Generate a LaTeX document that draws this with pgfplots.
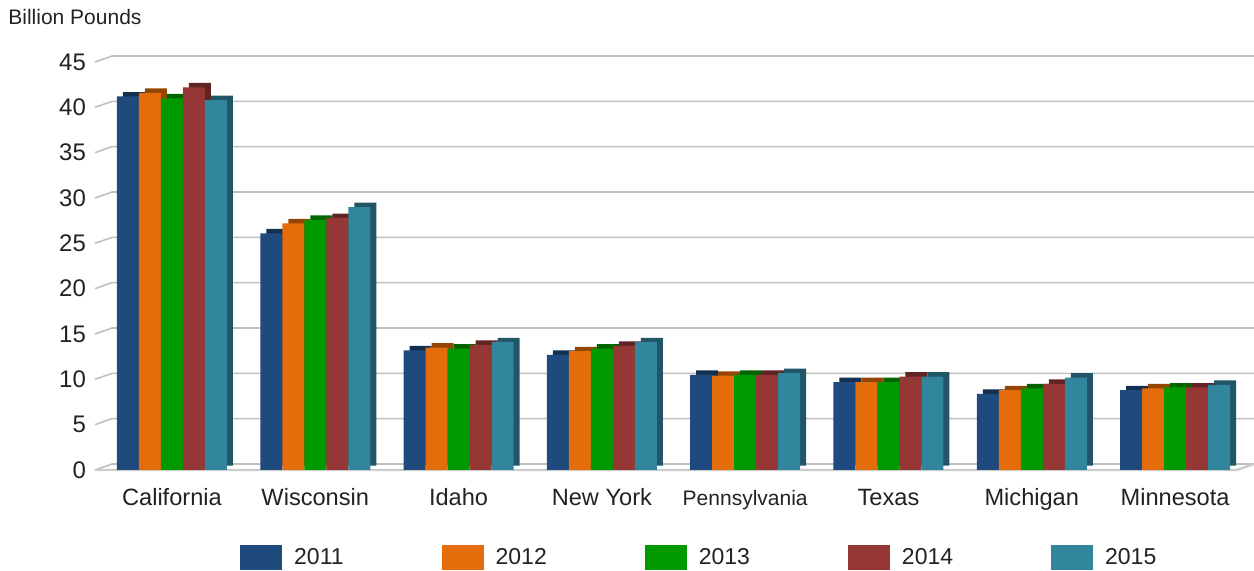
\documentclass[border=0pt]{standalone}
\usepackage{pgfplots}
\pgfplotsset{compat=1.18}
\usepackage{pgfplotstable}
\usepackage{fontspec}
\setmainfont{Liberation Sans}

\definecolor{c11}{HTML}{1F4A7D}
\definecolor{c12}{HTML}{E46C0A}
\definecolor{c13}{HTML}{009A00}
\definecolor{c14}{HTML}{953735}
\definecolor{c15}{HTML}{31859C}
\definecolor{gridc}{HTML}{BFBFBF}
\definecolor{txt}{HTML}{222222}

\pgfplotsset{sq/.style={legend image code/.code={\path[##1, draw=none] (0pt,-6pt) rectangle (21pt,6.5pt); \path (25pt,0pt);}}}

% billion pounds of milk, by state and year
\pgfplotstableread{
x y2011 y2012 y2013 y2014 y2015
0 41.2 41.6 41.0 42.2 40.8
1 26.1 27.2 27.6 27.8 29.0
2 13.2 13.5 13.4 13.8 14.1
3 12.7 13.1 13.4 13.7 14.1
4 10.5 10.4 10.5 10.5 10.7
5 9.7 9.7 9.7 10.3 10.3
6 8.4 8.8 9.0 9.5 10.2
7 8.8 9.0 9.1 9.1 9.4
}\milk

\begin{document}
\begin{tikzpicture}
\begin{axis}[
    width=571pt, height=204pt, scale only axis,
    xmin=-0.537, xmax=7.432, ymin=0, ymax=45,
    clip=false,
    ybar, bar width=11pt,
    ytick={0,5,...,45},
    xtick={0,...,7},
    xticklabels={California,Wisconsin,Idaho,New York,{\fontsize{10.5}{12}\selectfont Pennsylvania},Texas,Michigan,Minnesota},
    axis line style={draw=none},
    major tick length=0pt,
    /pgf/number format/assume math mode=true,
    yticklabel style={font=\fontsize{12}{14}\selectfont, text=txt, xshift=-1pt},
    xticklabel style={font=\fontsize{11.8}{14}\selectfont, text=txt, anchor=base, yshift=-17.7pt},
    legend columns=5,
    legend style={draw=none, at={(0.53,0)}, anchor=center, yshift=-44pt,
        font=\fontsize{11.5}{13}\selectfont, text=txt,
        /tikz/every even column/.append style={column sep=47pt}},
]
\coordinate (O) at (rel axis cs:0,0);
\pgfplotsinvokeforeach{0,5,...,45}{
  \draw[gridc, line width=0.8pt] (axis cs:-0.537,#1) -- ++(8.5pt,3pt)
      -- ([xshift=8.5pt,yshift=3pt]axis cs:7.432,#1);
}
\draw[gridc!80, line width=1.2pt] (axis cs:-0.537,0) -- (axis cs:7.432,0) -- ++(8.5pt,3pt);

\addplot[forget plot, fill=c11!65!black, draw=none, bar shift=-22pt, xshift=3pt, yshift=2.2pt] table[x=x, y=y2011] {\milk};
\addplot[sq, fill=c11, draw=none, bar shift=-22pt] table[x=x, y=y2011] {\milk};
\addplot[forget plot, fill=c12!65!black, draw=none, bar shift=-11pt, xshift=3pt, yshift=2.2pt] table[x=x, y=y2012] {\milk};
\addplot[sq, fill=c12, draw=none, bar shift=-11pt] table[x=x, y=y2012] {\milk};
\addplot[forget plot, fill=c13!65!black, draw=none, bar shift=0pt, xshift=3pt, yshift=2.2pt] table[x=x, y=y2013] {\milk};
\addplot[sq, fill=c13, draw=none, bar shift=0pt] table[x=x, y=y2013] {\milk};
\addplot[forget plot, fill=c14!65!black, draw=none, bar shift=11pt, xshift=3pt, yshift=2.2pt] table[x=x, y=y2014] {\milk};
\addplot[sq, fill=c14, draw=none, bar shift=11pt] table[x=x, y=y2014] {\milk};
\addplot[forget plot, fill=c15!65!black, draw=none, bar shift=22pt, xshift=3pt, yshift=2.2pt] table[x=x, y=y2015] {\milk};
\addplot[sq, fill=c15, draw=none, bar shift=22pt] table[x=x, y=y2015] {\milk};
\legend{2011,2012,2013,2014,2015}
\end{axis}
\node[anchor=west, font=\fontsize{10.5}{12}\selectfont, text=txt, inner sep=0pt] at ([shift={(-43.5pt,226.5pt)}]O) {Billion Pounds};
\pgfresetboundingbox
\path[use as bounding box] ([shift={(-47.5pt,235pt)}]O) rectangle ([shift={(579.5pt,-50.5pt)}]O);
\end{tikzpicture}
\end{document}
